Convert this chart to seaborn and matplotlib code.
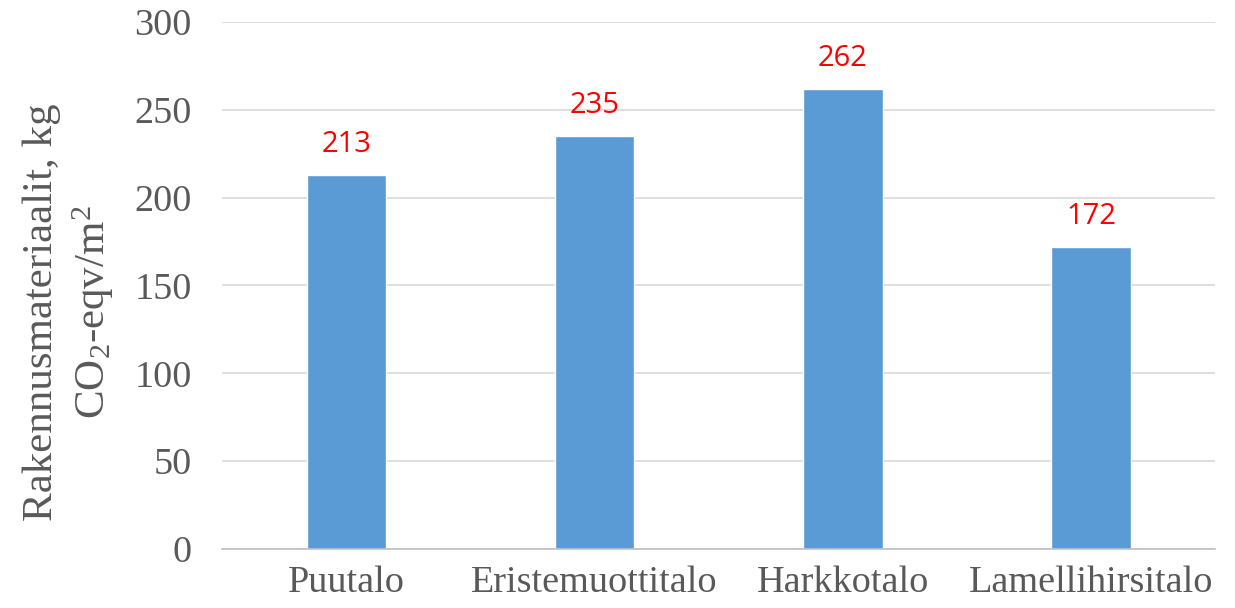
import seaborn as sns
import matplotlib.pyplot as plt
import pandas as pd

categories = ['Puutalo', 'Eristemuottitalo', 'Harkkotalo', 'Lamellihirsitalo']
values = [213, 235, 262, 172]
yticks = [0, 50, 100, 150, 200, 250, 300]

sns.set_theme(style='white')
plt.rcParams['font.family'] = ['Liberation Serif', 'DejaVu Serif']
plt.rcParams['mathtext.fontset'] = 'custom'
plt.rcParams['mathtext.rm'] = 'Liberation Serif'
plt.rcParams['mathtext.it'] = 'Liberation Serif:italic'

df = pd.DataFrame({'talo': categories, 'co2': values})

fig = plt.figure(figsize=(12.35, 6.08), dpi=100)
ax = fig.add_axes([0.18, 0.097, 0.804, 0.867])
sns.barplot(data=df, x='talo', y='co2', color='#5B9BD5', width=0.32, saturation=1, ax=ax)

ax.set_ylim(0, 300)
ax.set_yticks(yticks)
ax.yaxis.grid(True, color='#D9D9D9', linewidth=1.2)
ax.set_axisbelow(True)
for s in ['top', 'right', 'left']:
    ax.spines[s].set_visible(False)
ax.spines['bottom'].set_color('#BFBFBF')
ax.spines['bottom'].set_linewidth(1.2)
ax.tick_params(axis='both', length=0, labelsize=27.5, labelcolor='#595959')
ax.tick_params(axis='y', pad=22)
ax.tick_params(axis='x', pad=12)
ax.set_xlabel('')
ax.set_ylabel('Rakennusmateriaalit, kg\nCO$_2$-eqv/m$^2$', fontsize=31, color='#595959',
              linespacing=1.25)
ax.yaxis.set_label_coords(-0.107, 0.45)

for i, v in enumerate(values):
    ax.text(i, v + 9, str(v), ha='center', va='bottom', color='#FF0000', fontsize=21,
            family=['Open Sans', 'DejaVu Sans'])

fig.savefig('out.png', dpi=100)
